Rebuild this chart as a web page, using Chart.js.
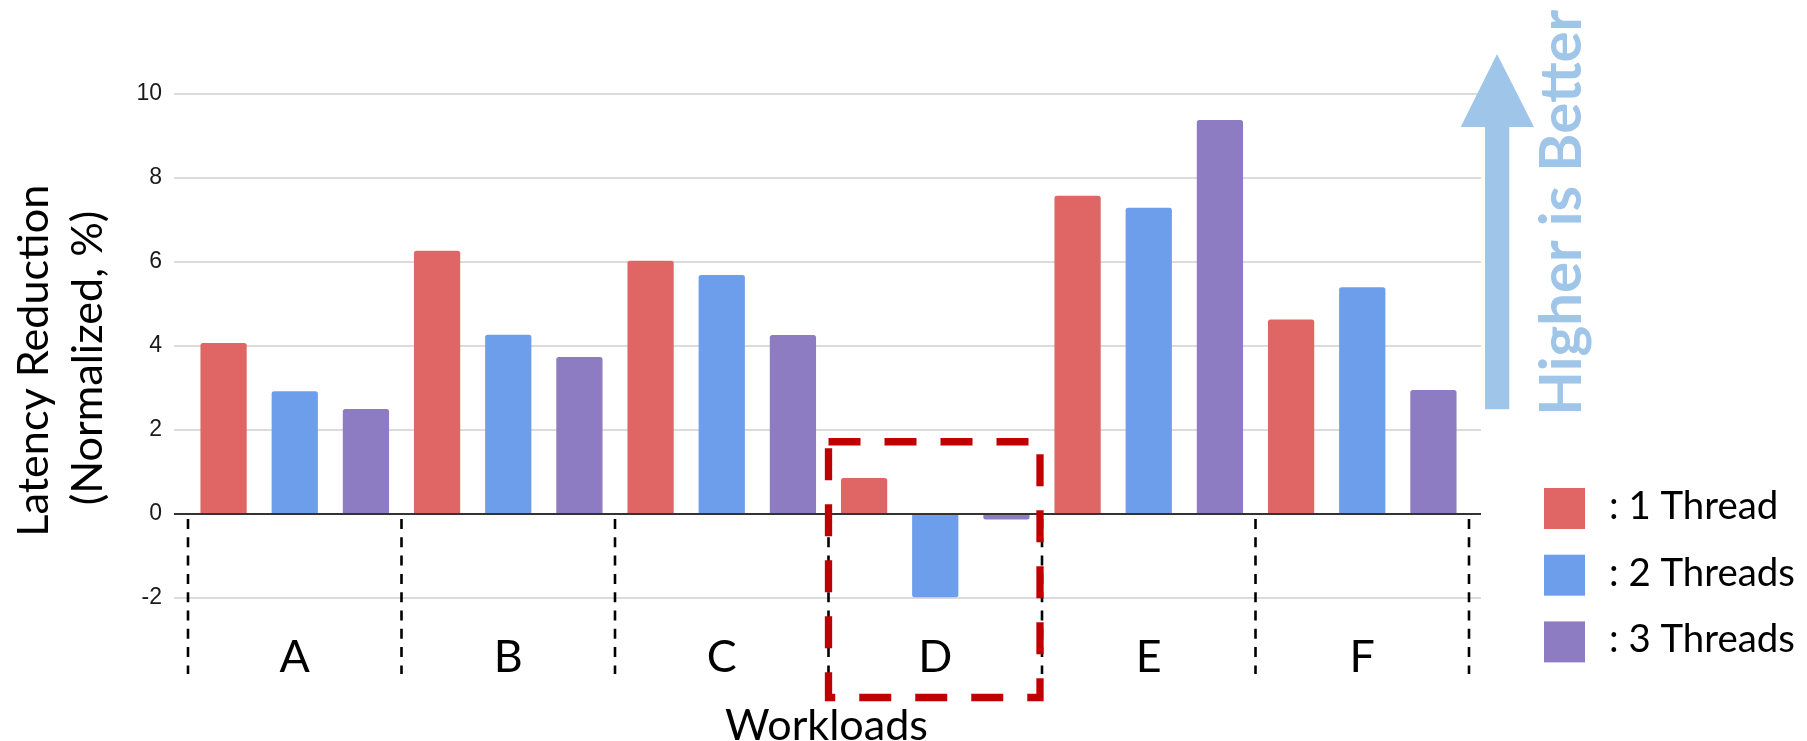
<!DOCTYPE html>
<html>
<head>
<meta charset="utf-8">
<script src="https://cdn.jsdelivr.net/npm/chart.js@4/dist/chart.umd.min.js"></script>
<style>
  html, body { margin: 0; padding: 0; background: #fff; overflow: hidden; }
  canvas { display: block; }
</style>
</head>
<body>
<canvas id="c" width="1807" height="741"></canvas>
<script>
// ---- data ----
const workloads = ['A', 'B', 'C', 'D', 'E', 'F'];
const oneThread = [4.07, 6.27, 6.03, 0.86, 7.58, 4.63];
const twoThreads = [2.92, 4.27, 5.69, -1.98, 7.29, 5.40];
const threeThreads = [2.50, 3.74, 4.26, -0.13, 9.38, 2.95];
const yTicks = [-2, 0, 2, 4, 6, 8, 10];
const seriesNames = ['1 Thread', '2 Threads', '3 Threads'];

// ---- styles ----
const seriesColors = ['#E06666', '#6D9EEB', '#8E7CC3'];
const SANS = "Lato, 'Open Sans', 'DejaVu Sans', sans-serif";
const ARIAL = "'Liberation Sans', Arial, sans-serif";

// size a font so a string spans a given width
const measureCtx = document.createElement('canvas').getContext('2d');
function fitSize(text, width, weight) {
  measureCtx.font = `${weight || 'normal'} 100px ${SANS}`;
  return 100 * width / measureCtx.measureText(text).width;
}

const yTitleSize = fitSize('Latency Reduction', 352);
const xTitleSize = fitSize('Workloads', 203);
const catSize = xTitleSize * 1.04;
const legendSize = fitSize(': 2 Threads', 186);
const noteSize = fitSize('Higher is Better', 406, 'bold');
const catPadding = 658 - 598 - 0.6 * catSize;

// boundary between neighbouring workload groups
function groupEdge(chart, i) {
  const x = chart.scales.x, a = chart.chartArea;
  if (i <= 0) return a.left;
  if (i >= workloads.length) return a.right;
  return (x.getPixelForValue(i - 1) + x.getPixelForValue(i)) / 2;
}

const gridLines = {
  id: 'gridLines',
  beforeDatasetsDraw(chart) {
    const { ctx, chartArea: a, scales: { y } } = chart;
    ctx.save();
    ctx.strokeStyle = '#cfcfcf';
    ctx.lineWidth = 1.4;
    y.ticks.forEach(t => {
      if (t.value === 0) return;
      const py = y.getPixelForValue(t.value);
      ctx.beginPath();
      ctx.moveTo(a.left - 14, py);
      ctx.lineTo(a.right + 12, py);
      ctx.stroke();
    });
    ctx.restore();
  },
  afterDatasetsDraw(chart) {
    const { ctx, chartArea: a, scales: { y } } = chart;
    const py = y.getPixelForValue(0);
    ctx.save();
    ctx.strokeStyle = '#333';
    ctx.lineWidth = 2;
    ctx.beginPath();
    ctx.moveTo(a.left - 14, py);
    ctx.lineTo(a.right + 12, py);
    ctx.stroke();
    ctx.restore();
  }
};

const decorations = {
  id: 'decorations',
  afterDraw(chart) {
    const { ctx, chartArea: a, scales: { y } } = chart;
    const zeroY = y.getPixelForValue(0);

    // dashed separators between workload groups
    ctx.save();
    ctx.strokeStyle = '#000';
    ctx.lineWidth = 2.6;
    ctx.setLineDash([10, 8.3]);
    for (let i = 0; i <= workloads.length; i++) {
      const px = groupEdge(chart, i);
      ctx.beginPath();
      ctx.moveTo(px, zeroY + 5);
      ctx.lineTo(px, a.bottom + 76);
      ctx.stroke();
    }
    ctx.restore();

    // highlight box around workload D
    const boxL = groupEdge(chart, 3);
    const boxR = groupEdge(chart, 4) - 2;
    const boxT = y.getPixelForValue(1.72);
    const boxB = a.bottom + 99.5;
    ctx.save();
    ctx.strokeStyle = '#C00000';
    ctx.lineWidth = 7.3;
    ctx.setLineDash([32, 24]);
    ctx.lineJoin = 'miter';
    ctx.beginPath();
    ctx.rect(boxL, boxT, boxR - boxL, boxB - boxT);
    ctx.stroke();
    ctx.restore();

    // "higher is better" arrow
    ctx.save();
    ctx.fillStyle = '#9FC5E8';
    ctx.beginPath();
    ctx.moveTo(1497, 54);
    ctx.lineTo(1534, 127);
    ctx.lineTo(1509.3, 127);
    ctx.lineTo(1509.3, 409.3);
    ctx.lineTo(1485, 409.3);
    ctx.lineTo(1485, 127);
    ctx.lineTo(1460.7, 127);
    ctx.closePath();
    ctx.fill();
    ctx.translate(1581, 212.7);
    ctx.rotate(-Math.PI / 2);
    ctx.font = `bold ${noteSize}px ${SANS}`;
    ctx.textAlign = 'center';
    ctx.textBaseline = 'alphabetic';
    ctx.fillText('Higher is Better', 0, 0);
    ctx.restore();

    // legend
    ctx.save();
    ctx.font = `${legendSize}px ${SANS}`;
    ctx.textAlign = 'left';
    ctx.textBaseline = 'alphabetic';
    chart.data.datasets.forEach((ds, i) => {
      const top = 488 + i * 66.7;
      ctx.fillStyle = ds.backgroundColor;
      ctx.fillRect(1544, top, 41, 41);
      ctx.fillStyle = '#000';
      ctx.fillText(': ' + ds.label, 1609, top + 31);
    });
    ctx.restore();

    // axis titles
    ctx.save();
    ctx.fillStyle = '#000';
    ctx.textAlign = 'center';
    ctx.textBaseline = 'alphabetic';
    ctx.font = `${xTitleSize}px ${SANS}`;
    ctx.fillText('Workloads', (a.left + a.right) / 2 - 2, 740);
    ctx.font = `${yTitleSize}px ${SANS}`;
    ctx.save();
    ctx.translate(48.3, 360.7);
    ctx.rotate(-Math.PI / 2);
    ctx.fillText('Latency Reduction', 0, 0);
    ctx.restore();
    ctx.save();
    ctx.translate(101.7, 358);
    ctx.rotate(-Math.PI / 2);
    ctx.fillText('(Normalized, %)', 0, 0);
    ctx.restore();
    ctx.restore();
  }
};

new Chart(document.getElementById('c'), {
  type: 'bar',
  data: {
    labels: workloads,
    datasets: [
      { label: seriesNames[0], data: oneThread, backgroundColor: seriesColors[0] },
      { label: seriesNames[1], data: twoThreads, backgroundColor: seriesColors[1] },
      { label: seriesNames[2], data: threeThreads, backgroundColor: seriesColors[2] }
    ]
  },
  options: {
    responsive: false,
    animation: false,
    devicePixelRatio: 1,
    layout: { padding: { left: 0, right: 338, top: 94, bottom: 0 } },
    datasets: {
      bar: { categoryPercentage: 1.0, barPercentage: 0.65, borderRadius: 2.5, borderSkipped: 'start' }
    },
    plugins: {
      legend: { display: false },
      tooltip: { enabled: false },
      title: { display: false }
    },
    scales: {
      x: {
        grid: { display: false, drawTicks: false },
        border: { display: false },
        ticks: {
          color: '#000',
          font: { family: SANS, size: catSize },
          padding: catPadding,
          maxRotation: 0,
          autoSkip: false
        },
        afterFit(s) { s.height = 143; }
      },
      y: {
        min: -2,
        max: 10,
        grid: { display: false, drawTicks: false },
        border: { display: false },
        afterBuildTicks(s) { s.ticks = yTicks.map(v => ({ value: v })); },
        ticks: {
          color: '#1a1a1a',
          font: { family: ARIAL, size: 23 },
          padding: 26
        },
        afterFit(s) { s.width = 188; }
      }
    }
  },
  plugins: [gridLines, decorations]
});
</script>
</body>
</html>
